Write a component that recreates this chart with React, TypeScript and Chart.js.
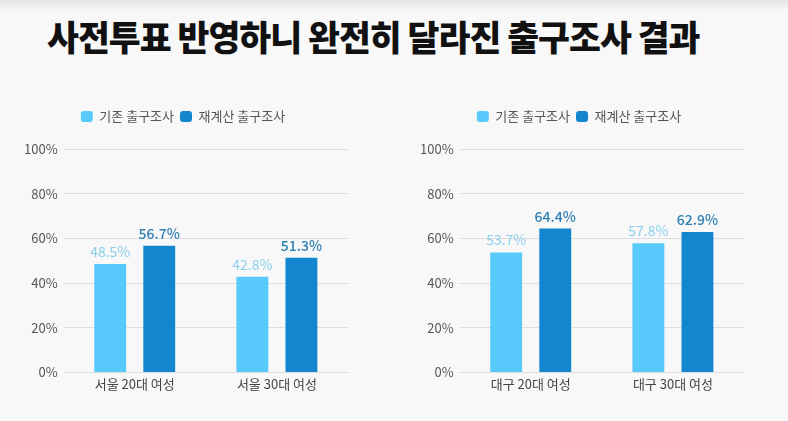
import { useEffect, useRef } from 'react';
import { Chart, registerables } from 'chart.js';

Chart.register(...registerables);

// Chart data
const titleText = '사전투표 반영하니 완전히 달라진 출구조사 결과';
const seriesNames = ['기존 출구조사', '재계산 출구조사'];

const seoulCategories = ['서울 20대 여성', '서울 30대 여성'];
const seoulExisting = [48.5, 42.8];
const seoulRecalc = [56.7, 51.3];

const daeguCategories = ['대구 20대 여성', '대구 30대 여성'];
const daeguExisting = [53.7, 57.8];
const daeguRecalc = [64.4, 62.9];

const yTicks = [0, 20, 40, 60, 80, 100];

const FONT = '"Noto Sans CJK KR", "Noto Sans", sans-serif';
const LIGHT = '#58c9fb';
const DARK = '#1386cf';
const LIGHT_LABEL = '#8acfee';
const DARK_LABEL = '#2f7fb5';

// draws value labels on top of each bar
const valueLabels = {
  id: 'valueLabels',
  afterDatasetsDraw(chart: any) {
    const { ctx } = chart;
    ctx.save();
    ctx.textAlign = 'center';
    ctx.textBaseline = 'alphabetic';
    chart.data.datasets.forEach((ds: any, i: number) => {
      const meta = chart.getDatasetMeta(i);
      ctx.fillStyle = i === 0 ? LIGHT_LABEL : DARK_LABEL;
      ctx.font = `${i === 0 ? 400 : 500} 14px ${FONT}`;
      meta.data.forEach((bar: any, j: number) => {
        ctx.fillText(ds.data[j].toFixed(1) + '%', bar.x, bar.y - 7);
      });
    });
    ctx.restore();
  },
};

// adds some space below the legend
const legendGap = {
  id: 'legendGap',
  afterInit(chart: any) {
    const legend = chart.legend;
    if (!legend) return;
    const fit = legend.fit;
    legend.fit = function () {
      fit.call(this);
      this.height += 16;
    };
  },
};

function GroupChart({
  categories,
  existing,
  recalc,
  padLeft,
  padRight,
}: {
  categories: string[];
  existing: number[];
  recalc: number[];
  padLeft: number;
  padRight: number;
}) {
  const canvasRef = useRef<HTMLCanvasElement>(null);

  useEffect(() => {
    if (!canvasRef.current) return;
    const chart = new Chart(canvasRef.current, {
      type: 'bar',
      data: {
        labels: categories,
        datasets: [
          {
            label: seriesNames[0],
            data: existing,
            backgroundColor: LIGHT,
            categoryPercentage: 0.69,
            barPercentage: 0.65,
          },
          {
            label: seriesNames[1],
            data: recalc,
            backgroundColor: DARK,
            categoryPercentage: 0.69,
            barPercentage: 0.65,
          },
        ],
      },
      options: {
        animation: false,
        responsive: true,
        maintainAspectRatio: false,
        layout: { padding: { left: padLeft, right: padRight, top: 4, bottom: 0 } },
        scales: {
          y: {
            min: 0,
            max: 100,
            afterBuildTicks: (axis: any) => {
              axis.ticks = yTicks.map((v) => ({ value: v }));
            },
            ticks: {
              color: '#555',
              font: { family: FONT, size: 13 },
              padding: 6,
              callback: (v: any) => v + '%',
            },
            grid: { color: '#dedede', drawTicks: false },
            border: { display: false },
          },
          x: {
            ticks: {
              color: '#444',
              font: { family: FONT, size: 13 },
              padding: 4,
            },
            grid: { display: false, drawTicks: false },
            border: { display: false },
          },
        },
        plugins: {
          legend: {
            position: 'top',
            align: 'center',
            labels: {
              color: '#555',
              font: { family: FONT, size: 13 },
              boxWidth: 12,
              boxHeight: 11,
              useBorderRadius: true,
              borderRadius: 3,
              padding: 6,
            },
          },
          tooltip: { enabled: false },
        },
      },
      plugins: [valueLabels, legendGap],
    });
    return () => chart.destroy();
  }, [categories, existing, recalc, padLeft, padRight]);

  return (
    <div style={{ position: 'relative', width: 394, height: 296 }}>
      <canvas ref={canvasRef} />
    </div>
  );
}

export default function App() {
  useEffect(() => {
    document.body.style.margin = '0';
  }, []);

  return (
    <div
      style={{
        position: 'fixed',
        left: 0,
        top: 0,
        width: 788,
        height: 421,
        overflow: 'hidden',
        background: 'linear-gradient(#e6e6e6 0px, #f8f8f8 12px, #f8f8f8 100%)',
        fontFamily: FONT,
      }}
    >
      <div
        style={{
          position: 'absolute',
          left: 47,
          top: 14,
          fontSize: 35,
          lineHeight: '44px',
          fontWeight: 900,
          color: '#111',
          whiteSpace: 'nowrap',
          transform: 'scaleX(0.99)',
          transformOrigin: 'left top',
          letterSpacing: -1,
        }}
      >
        {titleText}
      </div>
      <div style={{ position: 'absolute', left: 0, top: 100, display: 'flex' }}>
        <GroupChart
          categories={seoulCategories}
          existing={seoulExisting}
          recalc={seoulRecalc}
          padLeft={18}
          padRight={46}
        />
        <GroupChart
          categories={daeguCategories}
          existing={daeguExisting}
          recalc={daeguRecalc}
          padLeft={20}
          padRight={44}
        />
      </div>
    </div>
  );
}
